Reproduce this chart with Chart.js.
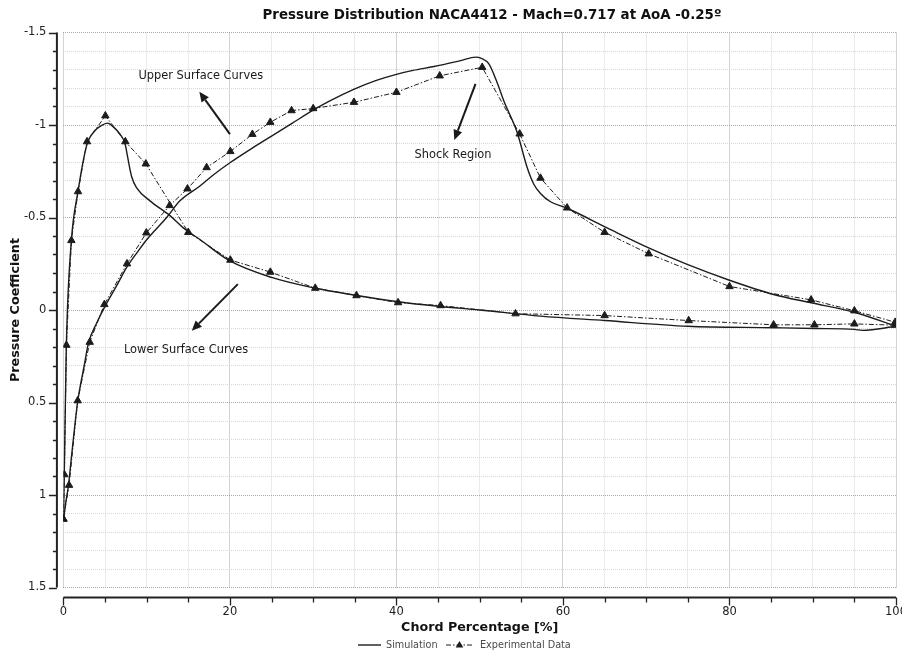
<!DOCTYPE html>
<html>
<head>
<meta charset="utf-8">
<script src="https://cdn.jsdelivr.net/npm/chart.js@4.4.0/dist/chart.umd.min.js"></script>
<style>
html,body{margin:0;padding:0;background:#fff;}
#wrap{width:902px;height:652px;}
</style>
</head>
<body>
<div id="wrap"><canvas id="c" width="902" height="652"></canvas></div>
<script>
// ---------- DATA ----------
const TITLE = 'Pressure Distribution NACA4412 - Mach=0.717 at AoA -0.25º';
const X_TITLE = 'Chord Percentage [%]';
const Y_TITLE = 'Pressure Coefficient';
const SERIES_NAMES = ['Simulation', 'Experimental Data'];

// Simulation - upper surface (shock near 50 % chord)
const simUpperX  = [0, 0.25, 0.6, 1.0, 1.7, 2.5, 3.0, 4.0, 5.0, 6.5, 7.6, 9.0, 10.0, 12.4, 14.0, 16.4, 18.0, 20.0, 22.5, 25.0, 27.5, 30.0, 32.0, 35.0, 37.5, 40.0, 42.0, 44.5, 47.7, 49.5, 50.2, 51.1, 52.0, 52.9, 54.5, 55.7, 56.5, 57.3, 58.5, 60.5, 65.3, 70.3, 75.0, 80.0, 85.3, 89.8, 95.0, 100];
const simUpperCp = [1.14, 1.05, 0.95, 0.78, 0.50, 0.30, 0.18, 0.07, -0.02, -0.14, -0.23, -0.32, -0.38, -0.50, -0.59, -0.67, -0.73, -0.796, -0.87, -0.94, -1.01, -1.08, -1.13, -1.195, -1.24, -1.274, -1.295, -1.316, -1.348, -1.367, -1.36, -1.33, -1.24, -1.13, -0.96, -0.77, -0.68, -0.63, -0.585, -0.55, -0.444, -0.336, -0.245, -0.161, -0.084, -0.039, 0.012, 0.088];

// Simulation - lower surface (suction peak near leading edge)
const simLowerX  = [0, 0.1, 0.35, 0.95, 1.75, 2.8, 3.8, 4.5, 5.3, 6.0, 6.8, 7.4, 7.7, 8.2, 8.8, 10.4, 12.8, 14.4, 16.4, 20.0, 25.0, 30.0, 35.0, 40.0, 45.0, 50.0, 57.3, 65.0, 75.0, 85.3, 90.2, 95.0, 96.0, 100];
const simLowerCp = [1.14, 0.90, 0.20, -0.37, -0.64, -0.89, -0.97, -0.995, -1.01, -0.99, -0.95, -0.90, -0.83, -0.72, -0.66, -0.59, -0.51, -0.444, -0.381, -0.265, -0.176, -0.12, -0.08, -0.046, -0.02, 0.0, 0.033, 0.057, 0.088, 0.096, 0.10, 0.105, 0.11, 0.088];

// Experimental data - upper surface
const expUpperX  = [0, 0.68, 1.72, 3.16, 4.92, 7.64, 9.96, 12.76, 14.9, 17.2, 20.05, 22.7, 24.85, 27.4, 30.0, 34.9, 40.0, 45.2, 50.3, 54.8, 57.3, 60.5, 65.0, 70.3, 80.0, 89.8, 95.0, 99.9];
const expUpperCp = [1.13, 0.947, 0.49, 0.174, -0.03, -0.25, -0.417, -0.565, -0.655, -0.77, -0.857, -0.95, -1.015, -1.078, -1.089, -1.123, -1.177, -1.266, -1.312, -0.952, -0.713, -0.552, -0.42, -0.304, -0.127, -0.055, 0.004, 0.066];

// Experimental data - lower surface
const expLowerX  = [0, 0.12, 0.36, 0.96, 1.76, 2.84, 5.04, 7.44, 9.9, 15.0, 20.05, 24.85, 30.25, 35.2, 40.2, 45.3, 54.3, 65.0, 75.1, 85.3, 90.2, 95.0, 99.9];
const expLowerCp = [1.13, 0.89, 0.19, -0.376, -0.64, -0.91, -1.05, -0.91, -0.79, -0.42, -0.27, -0.205, -0.118, -0.078, -0.04, -0.024, 0.02, 0.03, 0.057, 0.08, 0.08, 0.075, 0.082];

// Axis ranges / ticks
const X_MIN = 0, X_MAX = 100, X_MINOR = 5, X_MAJOR = 20;
const Y_MIN = -1.5, Y_MAX = 1.5, Y_MINOR = 0.1, Y_MAJOR = 0.5;

// Annotations (text + arrows), in data coordinates
const NOTES = [
  {text: 'Upper Surface Curves', tx: 16.5, ty: -1.265, ax1: 20.0, ay1: -0.951, ax2: 16.33, ay2: -1.18},
  {text: 'Shock Region',         tx: 46.8, ty: -0.838, ax1: 49.5, ay1: -1.222, ax2: 46.95, ay2: -0.919},
  {text: 'Lower Surface Curves', tx: 14.74, ty: 0.216, ax1: 20.95, ay1: -0.14, ax2: 15.42, ay2: 0.112}
];

// ---------- CHART ----------
const FONT = "'DejaVu Sans', 'Noto Sans', sans-serif";
const INK = '#1c1c1c';
const pts = (xs, ys) => xs.map((x, i) => ({x: x, y: ys[i]}));
const isMul = (v, m) => Math.abs(v / m - Math.round(v / m)) < 1e-6;

const simStyle = {showLine: true, borderColor: INK, backgroundColor: INK, borderWidth: 1.4, pointRadius: 0, cubicInterpolationMode: 'monotone'};
const expStyle = {showLine: true, borderColor: INK, backgroundColor: INK, borderWidth: 1, borderDash: [5, 2, 1.5, 2], pointStyle: 'triangle', pointRadius: 4.3, pointBackgroundColor: INK, pointBorderColor: INK, pointBorderWidth: 1};

function drawTri(ctx, x, y, r) {
  ctx.beginPath();
  ctx.moveTo(x, y - r);
  ctx.lineTo(x + r * 0.95, y + r * 0.6);
  ctx.lineTo(x - r * 0.95, y + r * 0.6);
  ctx.closePath();
  ctx.fill();
}

function arrow(ctx, x1, y1, x2, y2) {
  const ang = Math.atan2(y2 - y1, x2 - x1);
  const L = 10, W = 4.5;
  const bx = x2 - L * Math.cos(ang), by = y2 - L * Math.sin(ang);
  ctx.beginPath();
  ctx.moveTo(x1, y1);
  ctx.lineTo(bx, by);
  ctx.stroke();
  ctx.beginPath();
  ctx.moveTo(x2, y2);
  ctx.lineTo(bx + W * Math.sin(ang), by - W * Math.cos(ang));
  ctx.lineTo(bx - W * Math.sin(ang), by + W * Math.cos(ang));
  ctx.closePath();
  ctx.fill();
}

const decor = {
  id: 'decor',
  afterDraw(chart) {
    const {ctx, scales: {x, y}} = chart;
    ctx.save();
    // Title
    ctx.fillStyle = '#111';
    ctx.font = `bold 13.4px ${FONT}`;
    ctx.textAlign = 'center';
    ctx.textBaseline = 'middle';
    ctx.fillText(TITLE, 492, 16);

    // Offset axis lines with ticks
    ctx.strokeStyle = '#222';
    ctx.fillStyle = '#222';
    const ax = x.left - 6.5;
    const ay = y.bottom + 10;
    ctx.lineWidth = 2;
    ctx.beginPath();
    ctx.moveTo(ax, y.getPixelForValue(Y_MIN));
    ctx.lineTo(ax, y.getPixelForValue(Y_MAX));
    ctx.moveTo(x.getPixelForValue(X_MIN), ay);
    ctx.lineTo(x.getPixelForValue(X_MAX), ay);
    ctx.stroke();
    ctx.lineWidth = 1.3;
    ctx.beginPath();
    y.ticks.forEach(t => {
      const py = Math.round(y.getPixelForValue(t.value)) + 0.5;
      const len = isMul(t.value, Y_MAJOR) ? 8 : 4;
      ctx.moveTo(ax, py);
      ctx.lineTo(ax - len, py);
    });
    x.ticks.forEach(t => {
      const px = Math.round(x.getPixelForValue(t.value)) + 0.5;
      const len = isMul(t.value, X_MAJOR) ? 8 : 5;
      ctx.moveTo(px, ay);
      ctx.lineTo(px, ay + len);
    });
    ctx.stroke();

    // Annotations
    ctx.fillStyle = '#1a1a1a';
    ctx.strokeStyle = '#1a1a1a';
    ctx.lineWidth = 2;
    ctx.font = `11.4px ${FONT}`;
    NOTES.forEach(n => {
      ctx.fillText(n.text, x.getPixelForValue(n.tx), y.getPixelForValue(n.ty));
      arrow(ctx, x.getPixelForValue(n.ax1), y.getPixelForValue(n.ay1), x.getPixelForValue(n.ax2), y.getPixelForValue(n.ay2));
    });

    // Legend
    const ly = 645;
    ctx.font = `9.7px ${FONT}`;
    ctx.textAlign = 'left';
    ctx.fillStyle = '#4a4a4a';
    ctx.strokeStyle = INK;
    ctx.lineWidth = 1.4;
    ctx.beginPath();
    ctx.moveTo(358, ly); ctx.lineTo(381, ly);
    ctx.stroke();
    ctx.fillText(SERIES_NAMES[0], 386, ly);
    ctx.lineWidth = 1;
    ctx.setLineDash([5, 2, 1.5, 2]);
    ctx.beginPath();
    ctx.moveTo(446, ly); ctx.lineTo(473, ly);
    ctx.stroke();
    ctx.setLineDash([]);
    ctx.fillStyle = INK;
    drawTri(ctx, 459.5, ly, 4);
    ctx.fillStyle = '#4a4a4a';
    ctx.fillText(SERIES_NAMES[1], 480, ly);
    ctx.restore();
  }
};

const gridColor = (m) => (c) => (c.tick && isMul(c.tick.value, m)) ? '#a8a8a8' : '#d8d8d8';
const zeroPad = s => { s.paddingLeft = 0; s.paddingRight = 0; s.paddingTop = 0; s.paddingBottom = 0; };

new Chart(document.getElementById('c'), {
  type: 'scatter',
  data: {
    datasets: [
      Object.assign({label: SERIES_NAMES[0], data: pts(simUpperX, simUpperCp)}, simStyle),
      Object.assign({label: SERIES_NAMES[0] + ' (lower)', data: pts(simLowerX, simLowerCp)}, simStyle),
      Object.assign({label: SERIES_NAMES[1], data: pts(expUpperX, expUpperCp)}, expStyle),
      Object.assign({label: SERIES_NAMES[1] + ' (lower)', data: pts(expLowerX, expLowerCp)}, expStyle)
    ]
  },
  options: {
    responsive: false,
    animation: false,
    layout: {padding: {top: 32.5, right: 6, left: 0, bottom: 0}},
    plugins: {legend: {display: false}, title: {display: false}, tooltip: {enabled: false}},
    scales: {
      x: {
        type: 'linear', min: X_MIN, max: X_MAX,
        afterFit: s => { s.height = 64.5; zeroPad(s); },
        ticks: {stepSize: X_MINOR, autoSkip: false, maxRotation: 0, padding: 18, color: '#222',
                font: {family: FONT, size: 11.5},
                callback: v => isMul(v, X_MAJOR) ? String(v) : ''},
        grid: {color: gridColor(X_MAJOR), lineWidth: 1, drawTicks: false},
        border: {display: false, dash: [1, 1]},
        title: {display: true, text: X_TITLE, color: '#111', font: {family: FONT, size: 12.7, weight: 'bold'}, padding: {top: 0, bottom: 17}}
      },
      y: {
        type: 'linear', reverse: true, min: Y_MIN, max: Y_MAX,
        afterFit: s => { s.width = 63.4; zeroPad(s); },
        ticks: {stepSize: Y_MINOR, autoSkip: false, padding: 17, color: '#222',
                font: {family: FONT, size: 11.5},
                callback: v => isMul(v, Y_MAJOR) ? String(Math.round(v * 10) / 10) : ''},
        grid: {color: gridColor(Y_MAJOR), lineWidth: 1, drawTicks: false},
        border: {display: false, dash: [1, 1]},
        title: {display: true, text: Y_TITLE, color: '#111', font: {family: FONT, size: 12.7, weight: 'bold'}, padding: {top: 8, bottom: 0}}
      }
    }
  },
  plugins: [decor]
});
</script>
</body>
</html>
